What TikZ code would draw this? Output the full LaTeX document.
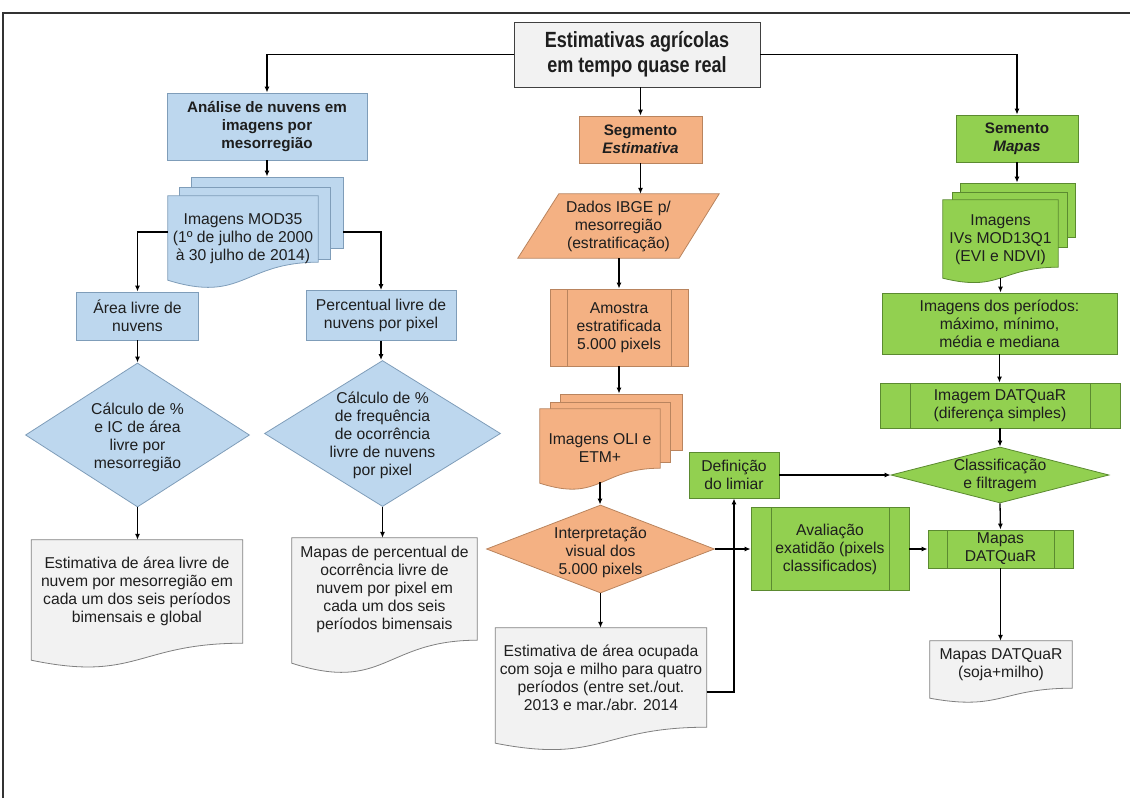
\documentclass[tikz,border=0pt]{standalone}
\usepackage{fontspec}
\setmainfont{Liberation Sans}
\newfontfamily\titlefont[FakeStretch=0.82]{Liberation Sans}
\usetikzlibrary{shapes.geometric,arrows.meta,calc}
\definecolor{bfill}{HTML}{BDD7EE}
\definecolor{bdraw}{HTML}{7F9DB9}
\definecolor{ofill}{HTML}{F4B183}
\definecolor{odraw}{HTML}{B9845E}
\definecolor{gfill}{HTML}{92D050}
\definecolor{gdraw}{HTML}{5B8A30}
\definecolor{dfill}{HTML}{F2F2F2}
\definecolor{ddraw}{HTML}{808080}
\definecolor{textc}{HTML}{1E1E1E}
\pgfdeclarelayer{back}
\pgfdeclarelayer{mid}
\pgfsetlayers{back,mid,main}
\newcommand{\docpath}[3]{%
  \path[#3] let \p1=(#1.north west), \p2=(#1.south east) in
    (\x1,\y1) -- (\x2,\y1) -- (\x2,\y2)
    .. controls ({0.5*(\x1+\x2)},\y2) and ({0.5*(\x1+\x2)},{\y2-2.3*#2pt}) ..
    (\x1,{\y2-#2pt}) -- cycle;}
\begin{document}
\begin{tikzpicture}[x=1pt,y=-1pt,
  txt/.style={font=\fontsize{15.7pt}{18pt}\selectfont, align=center, text=textc, inner sep=0pt},
  bld/.style={font=\bfseries\fontsize{15.2pt}{18.3pt}\selectfont},
  bstyle/.style={draw=bdraw, fill=bfill, line width=0.8pt},
  ostyle/.style={draw=odraw, fill=ofill, line width=0.8pt},
  gstyle/.style={draw=gdraw, fill=gfill, line width=0.8pt},
  dstyle/.style={draw=ddraw, fill=dfill, line width=0.8pt},
  bbox/.style={txt, bstyle, rectangle},
  obox/.style={txt, ostyle, rectangle},
  gbox/.style={txt, gstyle, rectangle},
  tbox/.style={txt, draw=black!75, fill=dfill, line width=0.9pt, rectangle},
  dia/.style={diamond, inner sep=0pt},
  proc/.style n args={2}{path picture={
    \draw[#2, line width=0.8pt]
      ([xshift=#1]path picture bounding box.north west) -- ([xshift=#1]path picture bounding box.south west)
      ([xshift=-#1]path picture bounding box.north east) -- ([xshift=-#1]path picture bounding box.south east);}},
  arr/.style={-{Latex[length=6pt,width=5pt]}, line width=1.3pt, draw=black},
  conn/.style={line width=1.3pt, draw=black}]
\useasboundingbox (0,0) rectangle (1130,798);
\draw[line width=1.3pt, draw=black!80] (3,798) -- (3,13) -- (1130,13);

% title
\node[tbox, minimum width=246pt, minimum height=65pt,
  font=\titlefont\bfseries\fontsize{22pt}{25pt}\selectfont] (title) at (637,54.5)
  {Estimativas agrícolas\\em tempo quase real};

% ---------- left column ----------
\node[bbox, bld, minimum width=200pt, minimum height=67pt] (ana) at (267,126.5)
  {Análise de nuvens em\\imagens por\\mesorregião};
\begin{pgfonlayer}{back}
\node[bstyle, minimum width=152pt, minimum height=71pt, inner sep=0pt] (mod3) at (267,212.5) {};
\node[bstyle, minimum width=151pt, minimum height=72pt, inner sep=0pt] (mod2) at (254.5,223) {};
\end{pgfonlayer}
\node[txt, minimum width=150pt, minimum height=66pt,
  label={[txt, yshift=-10pt]center:{Imagens MOD35\\(1º de julho de 2000\\à 30 julho de 2014)}}] (mod) at (243,229) {};
\begin{pgfonlayer}{mid}\docpath{mod}{18}{bstyle}\end{pgfonlayer}

\node[bbox, minimum width=122pt, minimum height=48pt] (area) at (137.5,316) {Área livre de\\nuvens};
\node[bbox, minimum width=150pt, minimum height=50pt] (perc) at (381,315.5) {Percentual livre de\\nuvens por pixel};
\node[dia, bstyle, minimum width=224pt, minimum height=144pt,
  label={[txt, yshift=-2pt]center:{Cálculo de \%\\e IC de área\\livre por\\mesorregião}}] (d1) at (137.5,435) {};
\node[dia, bstyle, minimum width=236pt, minimum height=146pt,
  label={[txt, yshift=-2pt]center:{Cálculo de \%\\de frequência\\de ocorrência\\livre de nuvens\\por pixel}}] (d2) at (382.5,433.5) {};
\node[txt, minimum width=211pt, minimum height=103pt] (doc1) at (137,591.5)
  {Estimativa de área livre de\\nuvem por mesorregião em\\cada um dos seis períodos\\bimensais e global};
\node[txt, minimum width=185pt, minimum height=102pt] (doc2) at (384.5,589)
  {Mapas de percentual de\\ocorrência livre de\\nuvem por pixel em\\cada um dos seis\\períodos bimensais};
\begin{pgfonlayer}{mid}
\docpath{doc1}{17}{dstyle}
\docpath{doc2}{23}{dstyle}
\end{pgfonlayer}

% ---------- middle column ----------
\node[obox, bld, minimum width=123pt, minimum height=47pt] (seg) at (640.5,139.5) {Segmento\\\textit{Estimativa}};
\node[txt, minimum width=201pt, minimum height=64pt] (para) at (618.5,226) {Dados IBGE p/\\mesorregião\\(estratificação)};
\begin{pgfonlayer}{mid}
\path[ostyle] ([xshift=41pt]para.north west) -- (para.north east) -- ([xshift=-40pt]para.south east) -- (para.south west) -- cycle;
\end{pgfonlayer}
\node[obox, proc={17pt}{odraw}, minimum width=138pt, minimum height=77pt] (amo) at (619,327.5) {Amostra\\estratificada\\5.000 pixels};
\begin{pgfonlayer}{back}
\node[ostyle, minimum width=122pt, minimum height=56pt, inner sep=0pt] (oli3) at (621,422) {};
\node[ostyle, minimum width=120pt, minimum height=60pt, inner sep=0pt] (oli2) at (610,432) {};
\end{pgfonlayer}
\node[txt, minimum width=120pt, minimum height=59pt,
  label={[txt, yshift=-10pt]center:{Imagens OLI e\\ETM+}}] (oli) at (600,438.5) {};
\begin{pgfonlayer}{mid}\docpath{oli}{15}{ostyle}\end{pgfonlayer}
\node[dia, ostyle, minimum width=228pt, minimum height=88pt,
  label={[txt, yshift=-3pt]center:{Interpretação\\visual dos\\5.000 pixels}}] (interp) at (600.5,549) {};
\node[txt, minimum width=211pt, minimum height=99pt] (doc3) at (601,677.5)
  {Estimativa de área ocupada\\com soja e milho para quatro\\períodos (entre set./out.\\2013 e mar./abr. 2014};
\begin{pgfonlayer}{mid}\docpath{doc3}{16}{dstyle}\end{pgfonlayer}

% ---------- right column ----------
\node[gbox, bld, minimum width=122pt, minimum height=47pt] (sem) at (1017,138.5) {Semento\\\textit{Mapas}};
\begin{pgfonlayer}{back}
\node[gstyle, minimum width=115pt, minimum height=54pt, inner sep=0pt] (ivs3) at (1017.5,210) {};
\node[gstyle, minimum width=115pt, minimum height=55pt, inner sep=0pt] (ivs2) at (1009.5,219.5) {};
\end{pgfonlayer}
\node[txt, minimum width=115pt, minimum height=67pt,
  label={[txt, yshift=-6.5pt]center:{Imagens\\IVs MOD13Q1\\(EVI e NDVI)}}] (ivs) at (1000.5,233.5) {};
\begin{pgfonlayer}{mid}\docpath{ivs}{11}{gstyle}\end{pgfonlayer}
\node[gbox, minimum width=235pt, minimum height=61pt] (per) at (999.5,323.5) {Imagens dos períodos:\\máximo, mínimo,\\média e mediana};
\node[gbox, proc={30pt}{gdraw}, minimum width=240pt, minimum height=45pt] (imgdat) at (1000,405.5) {Imagem DATQuaR\\(diferença simples)};
\node[dia, gstyle, minimum width=218pt, minimum height=56pt,
  label={[txt]center:{Classificação\\e filtragem}}] (cls) at (1000,475) {};
\node[gbox, minimum width=90pt, minimum height=46pt] (def) at (734,475) {Definição\\do limiar};
\node[gbox, proc={20pt}{gdraw}, minimum width=158pt, minimum height=83pt] (aval) at (830,549) {Avaliação\\exatidão (pixels\\classificados)};
\node[gbox, proc={19pt}{gdraw}, minimum width=145pt, minimum height=38pt] (mapas) at (1000.5,549) {Mapas\\DATQuaR};
\node[txt, minimum width=142pt, minimum height=47pt] (final) at (1001,664.5) {Mapas DATQuaR\\(soja+milho)};
\begin{pgfonlayer}{mid}\docpath{final}{10}{dstyle}\end{pgfonlayer}

% ---------- connectors ----------
\draw[arr] (title.west) -| (ana.north);
\draw[arr] (title.south -| seg.north) -- (seg.north);
\draw[arr] (title.east) -| (sem.north);
\draw[arr] (ana.south) -- (ana.south |- mod3.north);
\draw[arr] ($(mod.west)+(0,3)$) -| (area.north);
\draw[arr] ($(mod.east -| mod3.east)+(0,3)$) -| (perc.north);
\draw[arr] (area.south) -- (area.south |- d1.north);
\draw[arr] (perc.south) -- (perc.south |- d2.north);
\draw[arr] (d1.south) -- (d1.south |- doc1.north);
\draw[arr] (d2.south) -- (d2.south |- doc2.north);
\draw[arr] (seg.south) -- (seg.south |- para.north);
\draw[arr] (para.south -| amo.north) -- (amo.north);
\draw[arr] (amo.south) -- (amo.south |- oli3.north);
\draw[arr] ($(oli.south)+(0,14)$) -- (oli.south |- interp.north);
\draw[arr] (interp.south) -- (interp.south |- doc3.north);
\draw[arr] ($(doc3.east)+(0,14.5)$) -| (def.south);
\draw[arr] (def.east) -- (cls.west);
\draw[arr] (interp.east) -- (aval.west);
\draw[arr] (aval.east) -- (mapas.west);
\draw[arr] (sem.south) -- (sem.south |- ivs3.north);
\draw[arr] ($(ivs.south)+(0,11)$) -- (ivs.south |- per.north);
\draw[arr] (per.south) -- (per.south |- imgdat.north);
\draw[arr] (imgdat.south) -- (cls.north);
\draw[arr] (cls.south) -- (mapas.north);
\draw[arr] (mapas.south) -- (mapas.south |- final.north);
\end{tikzpicture}
\end{document}
